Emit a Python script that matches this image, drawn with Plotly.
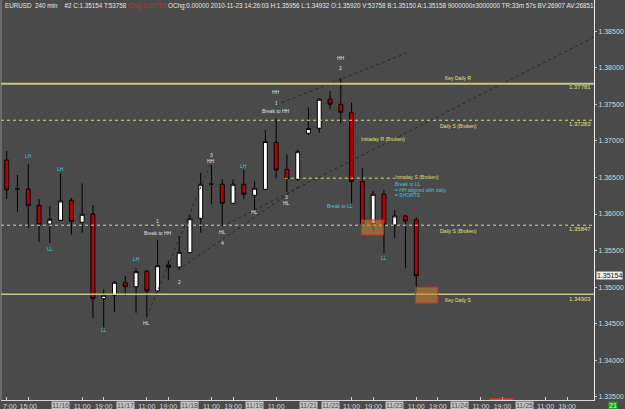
import plotly.graph_objects as go

# ---------------- data ----------------
bar_idx = list(range(39))
opens = [1.36739, 1.36345, 1.36342, 1.36119, 1.35863, 1.35914, 1.36188, 1.35887, 1.36000, 1.34841,
         1.34888, 1.35060, 1.35005, 1.35216, 1.34947, 1.35302, 1.35275, 1.35471, 1.35941, 1.36413,
         1.36407, 1.36147, 1.36407, 1.36256, 1.36338, 1.36981, 1.36612, 1.36475, 1.37104, 1.37173,
         1.37570, 1.37501, 1.37386, 1.36442, 1.35873, 1.36270, 1.35850, 1.35973, 1.35920]
highs = [1.36862, 1.36534, 1.36684, 1.36205, 1.36110, 1.36557, 1.36219, 1.36420, 1.36123, 1.34970,
         1.35083, 1.35152, 1.35257, 1.35234, 1.35644, 1.35361, 1.35699, 1.35986, 1.36565, 1.36671,
         1.36475, 1.36475, 1.36602, 1.36448, 1.37150, 1.37310, 1.36817, 1.36885, 1.37460, 1.37583,
         1.37683, 1.37857, 1.37523, 1.36625, 1.36315, 1.36329, 1.36055, 1.35986, 1.35956]
lows = [1.36205, 1.36023, 1.35809, 1.35621, 1.35607, 1.35904, 1.35722, 1.35744, 1.34573, 1.34450,
        1.34663, 1.34878, 1.34650, 1.34595, 1.34933, 1.35097, 1.35234, 1.35467, 1.35744, 1.36133,
        1.35836, 1.36140, 1.36205, 1.36055, 1.36330, 1.36489, 1.36301, 1.36452, 1.37081, 1.37113,
        1.37433, 1.37241, 1.36147, 1.35836, 1.35758, 1.35462, 1.35668, 1.35257, 1.34932]
closes = [1.36329, 1.36340, 1.36114, 1.35859, 1.35928, 1.36178, 1.35900, 1.35996, 1.34841, 1.34888,
          1.35066, 1.35005, 1.35211, 1.34947, 1.35293, 1.35271, 1.35476, 1.35936, 1.36407, 1.36408,
          1.36147, 1.36407, 1.36270, 1.36352, 1.36992, 1.36602, 1.36486, 1.36853, 1.37170, 1.37570,
          1.37501, 1.37392, 1.36442, 1.35873, 1.36270, 1.35850, 1.35973, 1.35904, 1.35154]

time_tick_idx = [0, 2, 7, 9, 13, 15, 19, 21, 25, 32, 34, 38, 40, 44, 46, 50, 52]
time_tick_text = ["7:00", "15:00", "11:00", "19:00", "11:00", "19:00", "11:00", "19:00", "11:00",
                  "11:00", "19:00", "11:00", "19:00", "11:00", "19:00", "11:00", "19:00"]
date_idx = [5, 11, 17, 23, 28, 30, 36, 42, 48]
date_text = ["11/16", "11/17", "11/18", "11/19", "11/21", "11/22", "11/23", "11/24", "11/25"]

y_ticks = [1.335, 1.340, 1.345, 1.350, 1.355, 1.360, 1.365, 1.370, 1.375, 1.380, 1.385]

key_levels = [1.37781, 1.34903]          # solid
broken_levels = [1.37283, 1.35847]       # dotted, full width
intraday_s = 1.36490
intraday_s_span = [25.8, 36.0]
current_price = 1.35154

# trend lines (bar index, price)
trend_lines = [
    ([13.0, 19.0], [1.34595, 1.36720]),
    ([20.0, 54.5], [1.35830, 1.38422]),
    ([25.0, 37.1], [1.37492, 1.38203]),
    ([15.9, 27.2], [1.35234, 1.36383]),
]

# structure labels: (idx, price, text, kind)
struct_labels = [
    (2, 1.36794, "LH", "c"), (5, 1.36620, "LH", "c"), (4, 1.35517, "LL", "c"),
    (9, 1.34413, "LL", "c"), (12, 1.35384, "LH", "c"), (13, 1.34509, "HL", "w"),
    (14, 1.35904, "1", "w"), (14, 1.35744, "Break to HH", "w"), (16, 1.35074, "2", "w"),
    (19, 1.36807, "3", "w"), (19, 1.36721, "HH", "w"), (20, 1.35758, "HL", "w"),
    (20, 1.35607, "4", "w"), (22, 1.36661, "LH", "c"), (23, 1.36032, "HL", "w"),
    (25, 1.37665, "HH", "w"), (25, 1.37519, "1", "w"), (25, 1.37410, "Break to HH", "w"),
    (26, 1.36237, "3", "w"), (26, 1.36147, "HL", "w"), (31, 1.38131, "HH", "w"),
    (31, 1.37994, "2", "w"), (30.92, 1.36114, "Break to LL", "c"), (35, 1.35394, "LL", "c"),
]

level_labels = [
    (41.9, 1.37865, "Key Daily R"), (41.9, 1.37204, "Daily S (Broken)"),
    (34.9, 1.37026, "Intraday R (Broken)"), (41.9, 1.35768, "Daily S (Broken)"),
    (41.9, 1.34823, "Key Daily S"),
]
level_price_labels = [(1.37734, "1.37781"), (1.37232, "1.37283"), (1.35791, "1.35847"), (1.34841, "1.34903")]
note_lines = [(1.36502, "Intraday S (Broken)", "#dede72"), (1.36411, "Break to LL", "#38c8e0"),
              (1.36333, "= HH aligned with daily", "#38c8e0"), (1.36256, "= SHORTS", "#38c8e0")]
note_x = 35.85

zones = [([32.93, 34.94], [1.35713, 1.35918]), ([37.94, 40.0], [1.34780, 1.34998]),
         ([44.83, 46.97], [1.33420, 1.33475])]

header = ("EURUSD  240 min    #2 C:1.35154 T:53758 <span style='color:#c03030'>Chg:-0.00766</span> "
          "OChg:0.00000 2010-11-23 14:26:03 H:1.35956 L:1.34932 O:1.35920 V:53758 B:1.35150 "
          "A:1.35158 9000000x3000000 TR:33m 57s BV:26907 AV:26851")

# ---------------- figure ----------------
BG = "#4a4a4a"
LVL = "#c8c878"
FONT = "Liberation Sans"

fig = go.Figure()

for xs, ys in trend_lines:
    fig.add_trace(go.Scatter(x=xs, y=ys, mode="lines", hoverinfo="skip",
                             line=dict(color="rgba(35,35,35,0.9)", width=1, dash="dot")))

fig.add_trace(go.Candlestick(
    x=bar_idx, open=opens, high=highs, low=lows, close=closes,
    increasing=dict(fillcolor="#ffffff", line=dict(color="#000000", width=1)),
    decreasing=dict(fillcolor="#b80000", line=dict(color="#000000", width=1)),
    whiskerwidth=0, hoverinfo="skip"))

shapes = []
for lv, w in zip(key_levels, [2, 1.5]):
    shapes.append(dict(type="line", xref="paper", x0=0, x1=1, yref="y", y0=lv, y1=lv,
                       line=dict(color=LVL, width=w)))
for lv in broken_levels:
    shapes.append(dict(type="line", xref="paper", x0=0, x1=1, yref="y", y0=lv, y1=lv,
                       line=dict(color="#dede72", width=1, dash="dot")))
shapes.append(dict(type="line", xref="x", x0=intraday_s_span[0], x1=intraday_s_span[1], yref="y",
                   y0=intraday_s, y1=intraday_s, line=dict(color="#dede72", width=1, dash="dot")))
for xs, ys in zones:
    shapes.append(dict(type="rect", xref="x", x0=xs[0], x1=xs[1], yref="y", y0=ys[0], y1=ys[1],
                       fillcolor="rgba(205,130,50,0.55)", line=dict(color="#d03020", width=1),
                       layer="above"))
shapes.append(dict(type="line", xref="paper", x0=0, x1=0, yref="paper", y0=0, y1=1,
                   line=dict(color="#8a8a8a", width=1)))

ann = []
ann.append(dict(xref="paper", yref="paper", x=0, y=1, xanchor="left", yanchor="top", xshift=2,
                text=header, showarrow=False, font=dict(family=FONT, size=6.3, color="#e6e6e6")))
for i, p, t, kind in struct_labels:
    ann.append(dict(x=i, y=p, text=t, showarrow=False, xanchor="center", yanchor="middle",
                    font=dict(family=FONT, size=5, color="#40c8dc" if kind == "c" else "#e0e0e0")))
for i, p, t in level_labels:
    ann.append(dict(x=i, y=p, text=t, showarrow=False, xanchor="center", yanchor="middle",
                    font=dict(family=FONT, size=5, color="#e2e27a")))
for p, t in level_price_labels:
    ann.append(dict(xref="paper", x=1, y=p, text=t, showarrow=False, xanchor="right", yanchor="middle",
                    xshift=-1, font=dict(family=FONT, size=6, color="#e2e27a")))
for p, t, c in note_lines:
    ann.append(dict(x=note_x, y=p, text=t, showarrow=False, xanchor="left", yanchor="middle",
                    font=dict(family=FONT, size=5, color=c)))
for i, t in zip(date_idx, date_text):
    ann.append(dict(x=i, yref="paper", y=0, yanchor="top", yshift=-1, text=t, showarrow=False,
                    bgcolor="#c4c4c4", borderpad=0, font=dict(family=FONT, size=7, color="#505050")))
# first time label sits at the plot's left edge, where plotly would hide its tick label
ann.append(dict(x=time_tick_idx[0], yref="paper", y=0, yanchor="top", xanchor="left", xshift=-6,
                yshift=-1, text=time_tick_text[0], showarrow=False,
                font=dict(family=FONT, size=7, color="#d8d8d8")))
ann.append(dict(xref="paper", x=1, y=current_price, xanchor="left", yanchor="middle", xshift=2,
                text="1.35154", showarrow=False, bgcolor="#ececec", borderpad=0,
                font=dict(family=FONT, size=7, color="#202020")))
ann.append(dict(xref="paper", x=1, yref="paper", y=0, xanchor="left", yanchor="top", xshift=14, yshift=-1,
                text="21", showarrow=False, bgcolor="#18a818", borderpad=0,
                font=dict(family=FONT, size=7, color="#e0ffe0")))

fig.update_layout(
    width=625, height=409,
    margin=dict(l=1, r=31, t=0, b=9),
    paper_bgcolor=BG, plot_bgcolor=BG,
    showlegend=False, boxgap=0.48,
    shapes=shapes, annotations=ann,
    xaxis=dict(range=[-0.529, 54.49], rangeslider=dict(visible=False), showgrid=False, zeroline=False,
               tickmode="array", tickvals=time_tick_idx, ticktext=time_tick_text,
               ticks="inside", ticklen=3, tickcolor="#d0d0d0",
               tickfont=dict(family=FONT, size=7, color="#d8d8d8"),
               showline=True, linecolor="#d8d8d8", linewidth=1),
    yaxis=dict(range=[1.334551, 1.389283], side="right", showgrid=False, zeroline=False,
               tickmode="array", tickvals=y_ticks, ticktext=[f"{v:.5f}" for v in y_ticks],
               ticks="outside", ticklen=2, tickcolor="#d0d0d0",
               tickfont=dict(family=FONT, size=7, color="#d8d8d8"),
               showline=True, linecolor="#f0f0f0", linewidth=1),
)

fig.write_html("out.html")
